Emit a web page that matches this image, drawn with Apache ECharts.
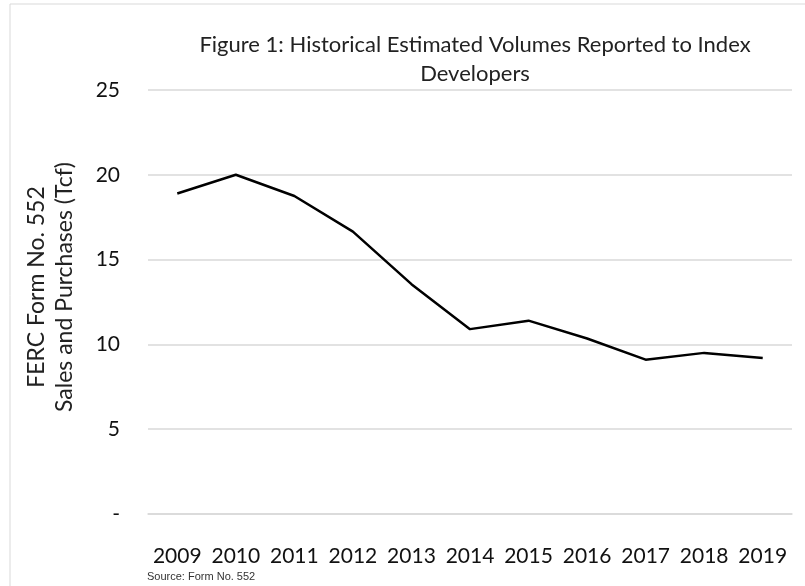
<!doctype html>
<html>
<head>
<meta charset="utf-8">
<title>Figure 1</title>
<script src="https://cdn.jsdelivr.net/npm/echarts@6/dist/echarts.min.js"></script>
<style>
    html, body { margin: 0; padding: 0; background: #fff; }
    #chart { width: 805px; height: 586px; }
</style>
</head>
<body>
<div id="chart"></div>
<script>
// data
var years = ['2009', '2010', '2011', '2012', '2013', '2014', '2015', '2016', '2017', '2018', '2019'];
var volumes = [18.9, 20.0, 18.75, 16.65, 13.55, 10.9, 11.4, 10.35, 9.1, 9.5, 9.2];
var yTicks = { min: 0, max: 25, step: 5 };

var font = 'Lato, "Open Sans", sans-serif';
var grey = '#d9d9d9';

var chart = echarts.init(document.getElementById('chart'));
chart.setOption({
    animation: false,
    title: {
        text: 'Figure 1: Historical Estimated Volumes Reported to Index\nDevelopers',
        left: 470,
        top: 25,
        textAlign: 'center',
        textStyle: { fontFamily: font, fontSize: 22, fontWeight: 'normal', color: '#222', lineHeight: 29 }
    },
    grid: { left: 148, right: 13, top: 90, bottom: 72 },
    xAxis: {
        type: 'category',
        data: years,
        boundaryGap: true,
        axisLine: { lineStyle: { color: grey, width: 1.5 } },
        axisTick: { show: false },
        axisLabel: { interval: 0, margin: 32, fontFamily: font, fontSize: 21, color: '#111' }
    },
    yAxis: {
        type: 'value',
        min: yTicks.min,
        max: yTicks.max,
        interval: yTicks.step,
        name: 'FERC Form No. 552\nSales and Purchases (Tcf)',
        nameLocation: 'middle',
        nameGap: 69,
        nameTextStyle: { fontFamily: font, fontSize: 23, color: '#222', lineHeight: 28, padding: [0, 0, 0, 30] },
        axisLine: { show: false },
        axisTick: { show: false },
        splitLine: { lineStyle: { color: grey, width: 1.5 } },
        axisLabel: {
            margin: 28,
            fontFamily: font, fontSize: 21, color: '#111',
            formatter: function (v) { return v === 0 ? '-' : String(v); }
        }
    },
    series: [{
        type: 'line',
        data: volumes,
        symbol: 'none',
        lineStyle: { color: '#000', width: 2.5 }
    }],
    graphic: [
        {
            type: 'rect',
            shape: { x: 10, y: 4, width: 820, height: 620 },
            style: { fill: 'none', stroke: grey, lineWidth: 1 },
            silent: true
        },
        {
            type: 'text',
            left: 147,
            top: 571,
            style: { text: 'Source: Form No. 552', font: '11px "Liberation Sans Narrow", sans-serif', fill: '#333' }
        }
    ]
});
</script>
</body>
</html>
